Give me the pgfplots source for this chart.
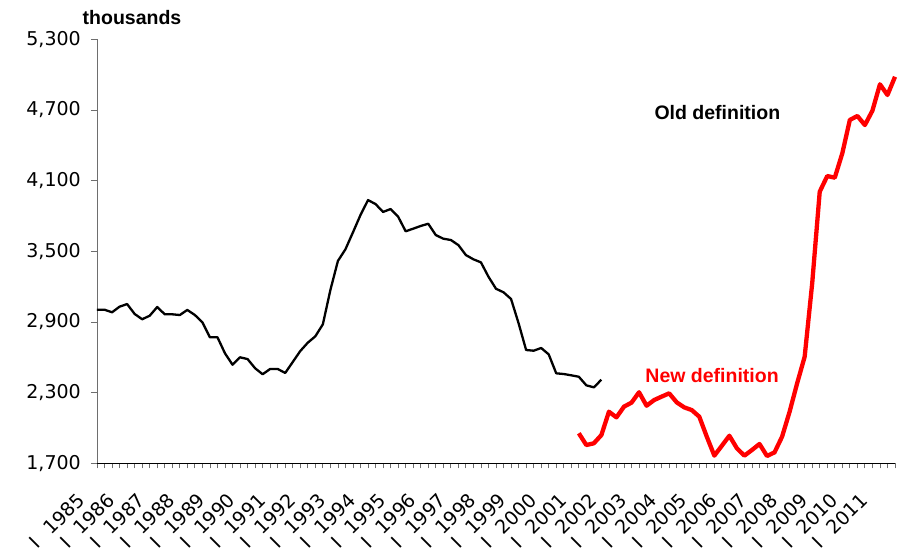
\documentclass[border=0pt]{standalone}
\usepackage{fontspec}
\setmainfont{DejaVu Sans}
\newfontfamily\labfont{Liberation Sans}
\usepackage{pgfplots}
\pgfplotsset{compat=1.18}
\definecolor{axgray}{RGB}{110,110,110}
\definecolor{newred}{RGB}{255,0,0}
\newcommand{\q}[1]{I\hspace{14bp}#1}

\begin{document}
\begin{tikzpicture}
\useasboundingbox (-97bp,-88.7bp) rectangle (802bp,463.3bp);
\begin{axis}[
  at={(0,0)}, anchor=south west,
  scale only axis, width=798bp, height=424bp,
  xmin=0, xmax=106, ymin=1700, ymax=5300,
  axis x line*=bottom, axis y line*=left,
  x axis line style={black, line width=0.9bp},
  y axis line style={axgray, line width=0.9bp},
  tick align=outside,
  major tick length=6bp, minor tick length=5bp,
  ytick={1700,2300,...,5300},
  ytick style={axgray, line width=0.8bp},
  xtick={0,4,...,104},
  xtick style={draw=none},
  minor xtick={0,1,...,106},
  xminorticks=true,
  minor x tick style={axgray, line width=0.8bp, draw=axgray},
  xticklabels={\q{1985},\q{1986},\q{1987},\q{1988},\q{1989},\q{1990},\q{1991},
    \q{1992},\q{1993},\q{1994},\q{1995},\q{1996},\q{1997},\q{1998},\q{1999},
    \q{2000},\q{2001},\q{2002},\q{2003},\q{2004},\q{2005},\q{2006},\q{2007},
    \q{2008},\q{2009},\q{2010},\q{2011}},
  xticklabel style={font=\fontsize{19bp}{22bp}\selectfont, inner sep=0pt,
    xshift=-21bp, yshift=-22bp, rotate=45, anchor=north east},
  yticklabel style={font=\fontsize{19bp}{22bp}\selectfont, inner sep=0pt, xshift=-10bp, anchor=east},
  /pgf/number format/.cd, 1000 sep={,}, assume math mode=true,
  /pgfplots/.cd,
  scaled y ticks=false,
  clip=false,
]
\addplot[black, line width=2.3bp, line join=round] coordinates {
(0,3004) (1,3004) (2,2982) (3,3030) (4,3052) (5,2968) (6,2923) (7,2953) (8,3027) (9,2965)
(10,2965) (11,2959) (12,3002) (13,2959) (14,2897) (15,2770) (16,2770) (17,2634) (18,2537) (19,2600)
(20,2585) (21,2507) (22,2456) (23,2501) (24,2501) (25,2467) (26,2560) (27,2653) (28,2724) (29,2778)
(30,2880) (31,3171) (32,3418) (33,3517) (34,3661) (35,3808) (36,3935) (37,3901) (38,3834) (39,3859)
(40,3794) (41,3670) (42,3692) (43,3715) (44,3734) (45,3638) (46,3607) (47,3596) (48,3553) (49,3468)
(50,3432) (51,3406) (52,3284) (53,3182) (54,3152) (55,3095) (56,2889) (57,2662) (58,2656) (59,2679)
(60,2625) (61,2464) (62,2458) (63,2447) (64,2435) (65,2362) (66,2345) (67,2410)
};
\addplot[newred, line width=4.3bp, line join=round] coordinates {
(64,1955) (65,1855) (66,1870) (67,1940) (68,2138) (69,2090) (70,2181) (71,2215) (72,2303) (73,2189)
(74,2237) (75,2266) (76,2294) (77,2218) (78,2175) (79,2152) (80,2096) (81,1926) (82,1765) (83,1849)
(84,1934) (85,1827) (86,1765) (87,1813) (88,1864) (89,1762) (90,1793) (91,1926) (92,2138) (93,2379)
(94,2605) (95,3228) (96,4006) (97,4139) (98,4125) (99,4332) (100,4615) (101,4649) (102,4572) (103,4694)
(104,4918) (105,4827) (106,4982)
};
\node[font=\labfont\bfseries\fontsize{19.5bp}{22bp}\selectfont, black] at (axis cs:82.4,4674) {Old definition};
\node[font=\labfont\bfseries\fontsize{19.5bp}{22bp}\selectfont, newred] at (axis cs:81.7,2441) {New definition};
\node[font=\labfont\bfseries\fontsize{19.5bp}{22bp}\selectfont, black] at (axis cs:4.65,5489) {thousands};
\end{axis}
\end{tikzpicture}
\end{document}
